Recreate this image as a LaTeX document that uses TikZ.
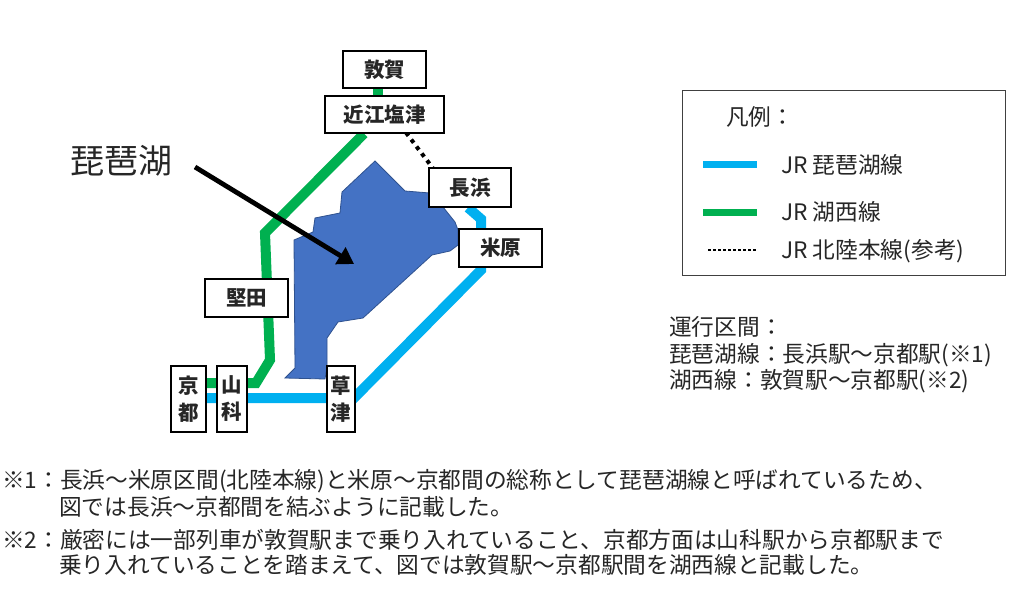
\documentclass[tikz,border=0pt]{standalone}
\usepackage{fontspec}
\setmainfont{Noto Sans CJK JP}
\usetikzlibrary{arrows.meta,backgrounds}
\definecolor{lakeblue}{HTML}{4472C4}
\definecolor{lakeedge}{HTML}{2F528F}
\definecolor{biwako}{HTML}{00B0F0}
\definecolor{kosei}{HTML}{00B050}
\definecolor{txt}{HTML}{262626}
\begin{document}
\begin{tikzpicture}[x=1pt,y=-1pt,
  station/.style={draw=black, line width=1.3pt, fill=white, inner sep=0pt,
    font=\fontsize{20.5}{27}\selectfont\bfseries, align=center, text=txt},
  bodytext/.style={inner sep=0pt, anchor=base west, text=txt,
    font=\fontsize{22.7}{26.5}\selectfont},
  biwaline/.style={draw=biwako, line width=10pt},
  koseiline/.style={draw=kosei, line width=10pt},
  hokuline/.style={draw=black, line width=4pt, dash pattern=on 4pt off 4.7pt},
]
\useasboundingbox (0,0) rectangle (1024,604);

% stations
\node[station, minimum width=83pt, minimum height=37pt] (tsuruga) at (384.5,69.5) {敦賀};
\node[station, minimum width=119pt, minimum height=37pt] (omi) at (384.5,114.5) {近江塩津};
\node[station, minimum width=82pt, minimum height=39pt] (nagahama) at (470,187.5) {長浜};
\node[station, minimum width=83pt, minimum height=38pt] (maibara) at (500.5,248) {米原};
\node[station, minimum width=83pt, minimum height=38pt] (katata) at (246.5,298) {堅田};
\node[station, minimum width=35pt, minimum height=66pt] (kyoto) at (188.5,399) {京\\都};
\node[station, minimum width=30pt, minimum height=66pt] (yamashina) at (232,399) {山\\科};
\node[station, minimum width=28pt, minimum height=66pt] (kusatsu) at (341,399) {草\\津};

% bend points
\coordinate (g1) at (265,233);
\coordinate (g2) at (270,360);
\coordinate (g3) at (256,383);
\coordinate (b1) at (481,219);
\coordinate (b2) at (481,270);
\coordinate (b3) at (354,398);

\begin{pgfonlayer}{background}
  % lake
  \fill[lakeblue, draw=lakeedge, line width=0.8pt]
    (375,161) -- (405,191) -- (430,193) -- (443,207) -- (455,222) -- (458,230)
    -- (458,245) -- (450,251) -- (432,255) -- (363,318) -- (338,322) -- (327,338)
    -- (327,367) -- (325,379) -- (285,378) -- (295,368) -- (294,240) -- (313,232)
    -- (315,218) -- (340,213) -- (342,192) -- cycle;
  % JR Kosei line
  \draw[koseiline] ([xshift=-6.5pt]tsuruga.south) -- ([xshift=-6.5pt]tsuruga.south |- omi.north);
  \draw[koseiline] ([xshift=-20.5pt]omi.south) -- (g1) -- (g2) -- (g3) -- (kyoto.east |- g3);
  % JR Biwako line
  \draw[biwaline] ([xshift=-2pt]nagahama.south) -- (b1) -- (b2) -- (b3) -- (kyoto.east |- b3);
  % JR Hokuriku line
  \draw[hokuline] ([xshift=21.5pt,yshift=1pt]omi.south) -- ([xshift=-37pt,yshift=-1pt]nagahama.north);
\end{pgfonlayer}

% lake label and arrow
\node[inner sep=0pt, anchor=base west, text=txt, font=\fontsize{34}{40}\selectfont] (lakelabel) at (70,173) {琵琶湖};
\coordinate (arrtail) at (195,167);
\coordinate (arrtip) at (354,264);
\draw[line width=4.8pt, -{Triangle[length=16pt,width=19pt]}] (arrtail) -- (arrtip);

% legend
\node[draw=black!75, line width=1pt, minimum width=323pt, minimum height=184pt, inner sep=0pt] (legend) at (843.5,183) {};
\node[bodytext] (lgtitle) at (726,125.5) {凡例：};
\coordinate (l1a) at (703,165); \coordinate (l1b) at (757,165);
\coordinate (l2a) at (703,212); \coordinate (l2b) at (757,212);
\coordinate (l3a) at (708,250); \coordinate (l3b) at (757,250);
\draw[draw=biwako, line width=7pt] (l1a) -- (l1b);
\draw[draw=kosei, line width=7pt] (l2a) -- (l2b);
\draw[draw=black, line width=2.5pt, dash pattern=on 2.5pt off 2.5pt] (l3a) -- (l3b);
\node[bodytext] (lg1) at (781,173.5) {JR 琵琶湖線};
\node[bodytext] (lg2) at (781,220.5) {JR 湖西線};
\node[bodytext] (lg3) at (781,258.5) {JR 北陸本線(参考)};

% operation section
\node[bodytext] (op0) at (669,335.5) {運行区間：};
\node[bodytext] (op1) at (669,362) {琵琶湖線：長浜駅～京都駅(※1)};
\node[bodytext] (op2) at (669,388.5) {湖西線：敦賀駅～京都駅(※2)};

% notes
\node[bodytext] (n1a) at (2,488.5) {※1：長浜～米原区間(北陸本線)と米原～京都間の総称として琵琶湖線と呼ばれているため、};
\node[bodytext] (n1b) at (59,515) {図では長浜～京都間を結ぶように記載した。};
\node[bodytext] (n2a) at (2,548.5) {※2：厳密には一部列車が敦賀駅まで乗り入れていること、京都方面は山科駅から京都駅まで};
\node[bodytext] (n2b) at (59,573) {乗り入れていることを踏まえて、図では敦賀駅～京都駅間を湖西線と記載した。};
\end{tikzpicture}
\end{document}
